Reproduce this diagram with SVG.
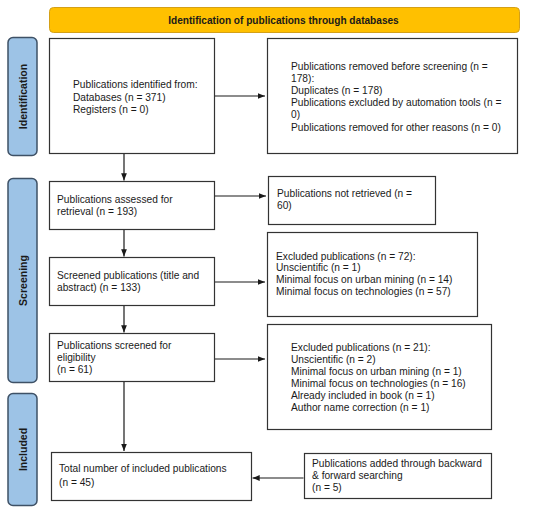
<svg xmlns="http://www.w3.org/2000/svg" width="550" height="511" viewBox="0 0 550 511">
<defs>
<style>
.box{fill:#fff;stroke:#333;stroke-width:1.2}
.t{font-family:"Liberation Sans",Arial,sans-serif;font-size:10.2px;fill:#1a1a1a}
.side{fill:#9DC3E6;stroke:#3E5166;stroke-width:1.5}
.st{font-family:"Liberation Sans",Arial,sans-serif;font-size:10.5px;font-weight:bold;fill:#1a1a1a}
.c{stroke:#1a1a1a;stroke-width:1.2;fill:none;marker-end:url(#ah)}
</style>
<marker id="ah" viewBox="0 0 10 10" refX="10" refY="5" markerWidth="6" markerHeight="6" orient="auto">
<path d="M0,1 L10,5 L0,9 z" fill="#1a1a1a"/>
</marker>
</defs>
<rect width="550" height="511" fill="#fff"/>
<g id="banner">
<rect x="49.5" y="7.5" width="470" height="25" rx="4" fill="#FFC000" stroke="#D4A017" stroke-width="1"/>
<text class="st" x="283.5" y="23.5" text-anchor="middle" style="font-size:10.1px">Identification of publications through databases</text>
</g>
<g id="lbl-identification">
<rect class="side" x="8" y="37.5" width="29" height="118" rx="5"/>
<text class="st" transform="translate(26.5,96.5) rotate(-90)" text-anchor="middle">Identification</text>
</g>
<g id="lbl-screening">
<rect class="side" x="8" y="178.5" width="29" height="204" rx="5"/>
<text class="st" transform="translate(26.5,280.5) rotate(-90)" text-anchor="middle">Screening</text>
</g>
<g id="lbl-included">
<rect class="side" x="8" y="393.5" width="29" height="112" rx="5"/>
<text class="st" transform="translate(26.5,449.5) rotate(-90)" text-anchor="middle">Included</text>
</g>
<g id="n1">
<rect class="box" x="49.5" y="38.5" width="165" height="115"/>
<text class="t" x="73" y="88"><tspan x="73">Publications identified from:</tspan><tspan x="73" dy="12.5">Databases (n = 371)</tspan><tspan x="73" dy="12.5">Registers (n = 0)</tspan></text>
</g>
<g id="n2">
<rect class="box" x="267.5" y="38.5" width="250" height="115"/>
<text class="t" x="291" y="69.5"><tspan x="291">Publications removed before screening (n =</tspan><tspan x="291" dy="12.2">178):</tspan><tspan x="291" dy="12.2">Duplicates (n = 178)</tspan><tspan x="291" dy="12.2">Publications excluded by automation tools (n =</tspan><tspan x="291" dy="12.2">0)</tspan><tspan x="291" dy="12.2">Publications removed for other reasons (n = 0)</tspan></text>
</g>
<g id="n3">
<rect class="box" x="49.5" y="181.5" width="165" height="48"/>
<text class="t" x="57" y="202.5"><tspan x="57">Publications assessed for</tspan><tspan x="57" dy="12.8">retrieval (n = 193)</tspan></text>
</g>
<g id="n4">
<rect class="box" x="268.5" y="176.5" width="167" height="48"/>
<text class="t" x="277" y="196.5"><tspan x="277">Publications not retrieved (n =</tspan><tspan x="277" dy="12.2">60)</tspan></text>
</g>
<g id="n5">
<rect class="box" x="49.5" y="257.5" width="165" height="48"/>
<text class="t" x="57" y="278.5"><tspan x="57">Screened publications (title and</tspan><tspan x="57" dy="12.2">abstract) (n = 133)</tspan></text>
</g>
<g id="n6">
<rect class="box" x="267.5" y="232.5" width="210" height="84"/>
<text class="t" x="276" y="259.5"><tspan x="276">Excluded publications (n = 72):</tspan><tspan x="276" dy="11.8">Unscientific (n = 1)</tspan><tspan x="276" dy="11.8">Minimal focus on urban mining (n = 14)</tspan><tspan x="276" dy="11.8">Minimal focus on technologies (n = 57)</tspan></text>
</g>
<g id="n7">
<rect class="box" x="49.5" y="333.5" width="165" height="48"/>
<text class="t" x="57" y="348.5"><tspan x="57">Publications screened for</tspan><tspan x="57" dy="12">eligibility</tspan><tspan x="57" dy="12">(n = 61)</tspan></text>
</g>
<g id="n8">
<rect class="box" x="267.5" y="324.5" width="224" height="105"/>
<text class="t" x="291" y="350.5"><tspan x="291">Excluded publications (n = 21):</tspan><tspan x="291" dy="12.1">Unscientific (n = 2)</tspan><tspan x="291" dy="12.1">Minimal focus on urban mining (n = 1)</tspan><tspan x="291" dy="12.1">Minimal focus on technologies (n = 16)</tspan><tspan x="291" dy="12.1">Already included in book (n = 1)</tspan><tspan x="291" dy="12.1">Author name correction (n = 1)</tspan></text>
</g>
<g id="n9">
<rect class="box" x="51.5" y="452.5" width="200" height="48"/>
<text class="t" x="59" y="471.5"><tspan x="59">Total number of included publications</tspan><tspan x="59" dy="14">(n = 45)</tspan></text>
</g>
<g id="n10">
<rect class="box" x="304.5" y="453.5" width="187" height="45"/>
<text class="t" x="312" y="466.5"><tspan x="312">Publications added through backward</tspan><tspan x="312" dy="12">&amp; forward searching</tspan><tspan x="312" dy="12">(n = 5)</tspan></text>
</g>
<g id="connectors">
<line class="c" x1="215" y1="96" x2="265" y2="96"/>
<line class="c" x1="124" y1="154" x2="124" y2="180.5"/>
<line class="c" x1="215" y1="196" x2="266" y2="196"/>
<line class="c" x1="124" y1="230" x2="124" y2="256.5"/>
<line class="c" x1="215" y1="282" x2="265" y2="282"/>
<line class="c" x1="124" y1="306" x2="124" y2="332.5"/>
<line class="c" x1="215" y1="359" x2="265" y2="359"/>
<line class="c" x1="124" y1="382" x2="124" y2="451"/>
<line class="c" x1="303.5" y1="478" x2="252.5" y2="478"/>
</g>
</svg>
